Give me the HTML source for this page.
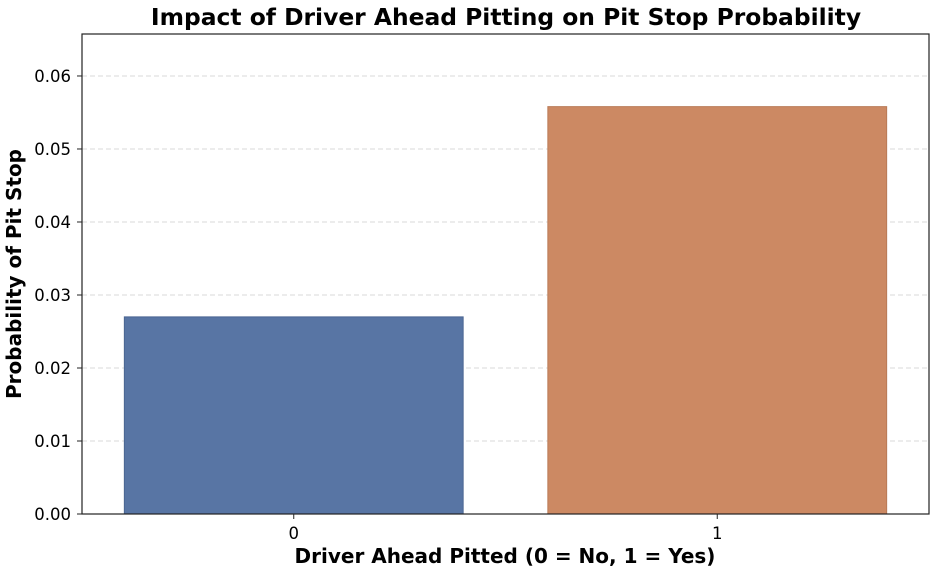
<!DOCTYPE html>
<html><head><meta charset="utf-8"><style>
body{margin:0;background:#fff}
svg{display:block;font-family:"DejaVu Sans","Liberation Sans",sans-serif}
</style></head><body>
<svg id="chart" width="935" height="571">
<text x="506" y="25" text-anchor="middle" font-size="23.4" font-weight="bold" fill="#000">Impact of Driver Ahead Pitting on Pit Stop Probability</text>
<g id="grid"></g><g id="bars"></g><g id="axes"></g>
<text x="505" y="563" text-anchor="middle" font-size="20" font-weight="bold">Driver Ahead Pitted (0 = No, 1 = Yes)</text>
<text transform="translate(21,274) rotate(-90)" text-anchor="middle" font-size="20" font-weight="bold">Probability of Pit Stop</text>
</svg>
<script>
const categories = ["0","1"];
const values = [0.0270, 0.0558];
const yTicks = [0,0.01,0.02,0.03,0.04,0.05,0.06];
const yTickLabels = ["0.00","0.01","0.02","0.03","0.04","0.05","0.06"];
const colors = ["#5875a4","#cc8963"];
const edges = ["#4a6592","#b97a56"];
const L=82,R=929,T=34,B=514,yMax=0.06575;
const NS="http://www.w3.org/2000/svg";
function y(v){return B-(B-T)*v/yMax;}
function x(i){return L+(R-L)*(i+0.5)/categories.length;}
function mk(tag,attrs,parent){const e=document.createElementNS(NS,tag);for(const k in attrs)e.setAttribute(k,attrs[k]);document.getElementById(parent).appendChild(e);return e;}
const bw=(R-L)/categories.length*0.8;
yTicks.forEach((t,i)=>{
  if(t>0){const g=mk('line',{x1:L,x2:R,y1:y(t),y2:y(t),stroke:'#ccc','stroke-dasharray':'5,3','stroke-width':0.8},'grid');
  
  }
  const tk=mk('line',{x1:L-5,x2:L,y1:y(t),y2:y(t),stroke:'#222','stroke-width':1},'axes');
  
  
  const tl=mk('text',{x:L-11,y:y(t)+6,'text-anchor':'end','font-size':16.5},'axes');
  tl.textContent=yTickLabels[i];
  
  
});
categories.forEach((c,i)=>{
  const r=mk('rect',{x:x(i)-bw/2,y:y(values[i]),width:bw,height:B-y(values[i]),fill:colors[i],stroke:edges[i],'stroke-width':1},'bars');
  
  
  const tk=mk('line',{x1:x(i),x2:x(i),y1:B,y2:B+5,stroke:'#222'},'axes');
  
  
  const tl=mk('text',{x:x(i),y:B+25,'text-anchor':'middle','font-size':16.5},'axes');
  tl.textContent=c;
  
  
});
const fr=mk('rect',{x:L,y:T,width:R-L,height:B-T,fill:'none',stroke:'#222','stroke-width':1.2},'axes');


</script>
</body></html>
